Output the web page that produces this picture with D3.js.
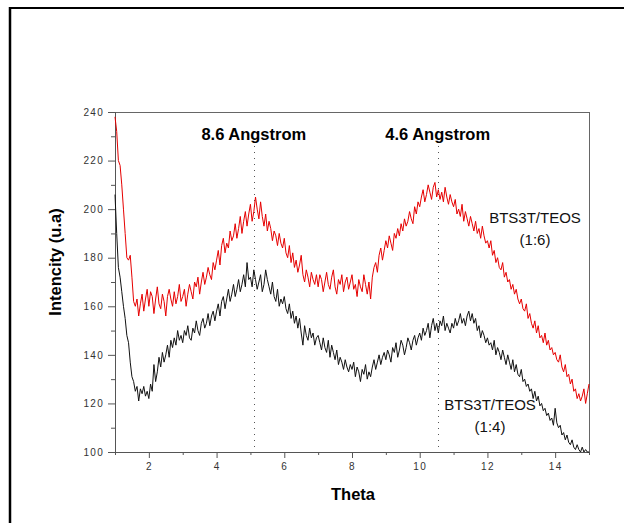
<!DOCTYPE html>
<html>
<head>
<meta charset="utf-8">
<script src="https://cdn.jsdelivr.net/npm/d3@7"></script>
<style>
body { margin: 0; background: #fff; }
text { font-family: Arial, "Liberation Sans", sans-serif; }
</style>
</head>
<body>
<div id="chart"></div>
<script>
// scan: theta from 1 to 15 in steps of 0.05
const thetaStart = 1, thetaStep = 0.05;

const red16 = [
  238,232,220,218,210,200,190,180,179,181,172,162,160,163,156,161,165,158,163,167,
  160,166,164,157,163,168,161,159,165,162,156,164,167,163,160,166,161,164,169,162,
  164,167,160,165,169,166,163,170,168,172,165,170,174,169,172,176,173,171,178,175,
  179,183,177,185,188,182,186,184,191,187,189,194,188,192,197,190,195,199,193,198,
  202,195,199,205,200,196,203,197,193,198,191,195,192,187,191,189,185,190,186,184,
  188,182,180,185,178,182,176,179,174,177,181,173,170,175,172,168,174,171,169,173,
  168,173,171,166,170,174,169,167,172,175,168,165,171,169,173,166,170,172,167,170,
  173,167,169,164,171,168,166,173,169,165,170,163,172,176,178,174,181,184,179,183,
  187,184,189,186,183,190,188,192,189,194,191,196,193,195,199,196,194,201,198,203,
  201,205,208,203,206,210,207,204,209,211,205,208,204,207,203,209,205,202,206,203,
  201,204,198,200,197,202,195,199,196,193,197,194,191,195,190,192,188,193,189,186,
  187,184,187,181,183,178,180,176,175,178,172,174,170,171,167,169,165,167,163,161,
  163,159,158,161,155,157,153,151,154,149,152,147,148,145,149,144,146,142,143,140,
  141,138,137,140,135,133,136,131,132,128,130,125,126,122,124,121,123,126,120,124,
  128
];

const black14 = [
  206,190,176,172,166,160,155,148,145,137,131,129,125,127,121,126,124,127,123,125,
  122,128,125,136,129,133,139,135,141,137,140,144,139,146,143,147,144,150,146,148,
  145,150,148,152,147,146,151,149,154,150,148,153,155,151,153,157,152,156,158,154,
  158,161,156,162,164,159,163,167,162,165,169,164,167,171,166,169,173,168,178,171,
  172,168,175,171,167,170,173,166,169,175,171,168,165,170,164,162,167,160,163,161,
  164,159,157,161,155,158,153,156,151,155,149,144,152,148,146,151,147,149,144,147,
  148,145,142,147,143,141,146,139,144,141,138,142,136,139,137,134,138,135,133,136,
  134,137,131,135,133,129,134,132,136,130,133,131,135,138,134,137,140,136,139,141,
  138,142,140,137,143,141,145,139,142,146,144,140,143,147,145,142,146,148,144,147,
  149,146,151,148,150,153,147,152,155,150,153,149,154,152,156,150,153,151,149,153,
  151,155,152,154,157,153,155,152,156,158,154,157,153,155,150,152,147,150,148,145,
  147,144,145,142,146,140,143,141,138,142,139,136,140,137,134,138,133,136,132,131,
  134,129,130,127,128,125,126,122,125,121,123,119,120,117,118,115,116,113,114,111,
  118,112,110,111,107,108,105,107,104,103,105,102,101,103,101,100,102,100,101,100,
  100
];

const xMajor = [2,4,6,8,10,12,14];
const xMinor = [1,3,5,7,9,11,13,15];
const yMajor = [100,120,140,160,180,200,220,240];
const yMinor = [110,130,150,170,190,210,230];

const peaks = [5.1, 10.53];
const peakLabels = ['8.6 Angstrom', '4.6 Angstrom'];

const W = 624, H = 523;
const svg = d3.select('#chart').append('svg').attr('width', W).attr('height', H);

// outer frame (top and left only)
svg.append('line').attr('x1', 9).attr('x2', W).attr('y1', 8).attr('y2', 8)
  .attr('stroke', '#000').attr('stroke-width', 2);
svg.append('line').attr('x1', 10).attr('x2', 10).attr('y1', 7).attr('y2', H)
  .attr('stroke', '#000').attr('stroke-width', 2.5);

const x = d3.scaleLinear().domain([1, 15]).range([115, 589]);
const y = d3.scaleLinear().domain([100, 240]).range([452, 112]).clamp(true);

const axisColor = '#555';

function styleAxis(g) {
  g.selectAll('path.domain').attr('stroke', axisColor);
  g.selectAll('.tick line').attr('stroke', axisColor);
  g.selectAll('.tick text').attr('fill', '#333')
    .style('font-size', '10px').style('letter-spacing', '1.3px');
}

// box top/right
svg.append('line').attr('x1', x.range()[0]).attr('x2', x.range()[1])
  .attr('y1', y.range()[1] + 0.5).attr('y2', y.range()[1] + 0.5).attr('stroke', '#666');
svg.append('line').attr('x1', x.range()[1] + 0.5).attr('x2', x.range()[1] + 0.5)
  .attr('y1', y.range()[1]).attr('y2', y.range()[0]).attr('stroke', '#666');

svg.append('g').attr('transform', 'translate(0,' + y.range()[0] + ')')
  .call(d3.axisBottom(x).tickValues(xMinor).tickSize(3).tickSizeOuter(0).tickFormat(''))
  .call(styleAxis);
svg.append('g').attr('transform', 'translate(0,' + y.range()[0] + ')')
  .call(d3.axisBottom(x).tickValues(xMajor).tickSize(6).tickSizeOuter(0).tickPadding(5).tickFormat(d3.format('d')))
  .call(styleAxis);

svg.append('g').attr('transform', 'translate(' + x.range()[0] + ',0)')
  .call(d3.axisLeft(y).tickValues(yMinor).tickSize(4).tickSizeOuter(0).tickFormat(''))
  .call(styleAxis);
svg.append('g').attr('transform', 'translate(' + x.range()[0] + ',0)')
  .call(d3.axisLeft(y).tickValues(yMajor).tickSize(7).tickSizeOuter(0).tickPadding(4).tickFormat(d3.format('d')))
  .call(styleAxis);

// axis titles
svg.append('text').attr('x', 353).attr('y', 500).attr('text-anchor', 'middle')
  .style('font-size', '16.5px').style('font-weight', 'bold').text('Theta');
svg.append('text').attr('transform', 'translate(61,262) rotate(-90)').attr('text-anchor', 'middle')
  .style('font-size', '16.5px').style('font-weight', 'bold').text('Intencity (u.a)');

// peak markers
peaks.forEach((p, i) => {
  svg.append('line').attr('x1', Math.round(x(p)) + 0.5).attr('x2', Math.round(x(p)) + 0.5)
    .attr('y1', 146).attr('y2', y.range()[0])
    .attr('stroke', '#555').attr('stroke-dasharray', '1,5');
  svg.append('text').attr('x', x(p)).attr('y', 140).attr('text-anchor', 'middle')
    .style('font-size', '16.5px').style('font-weight', 'bold').text(peakLabels[i]);
});

// curves
const line = d3.line()
  .x((d, i) => x(thetaStart + i * thetaStep))
  .y(d => y(d));

svg.append('path').attr('d', line(black14)).attr('fill', 'none')
  .attr('stroke', '#111').attr('stroke-width', 1);
svg.append('path').attr('d', line(red16)).attr('fill', 'none')
  .attr('stroke', '#e60000').attr('stroke-width', 1);

// series labels
function label(cx, by, lines) {
  lines.forEach((t, i) => {
    svg.append('text').attr('x', cx).attr('y', by + i * 22).attr('text-anchor', 'middle')
      .style('font-size', '15px').attr('fill', '#111').text(t);
  });
}
label(535, 223, ['BTS3T/TEOS', '(1:6)']);
label(490, 410, ['BTS3T/TEOS', '(1:4)']);
</script>
</body>
</html>
